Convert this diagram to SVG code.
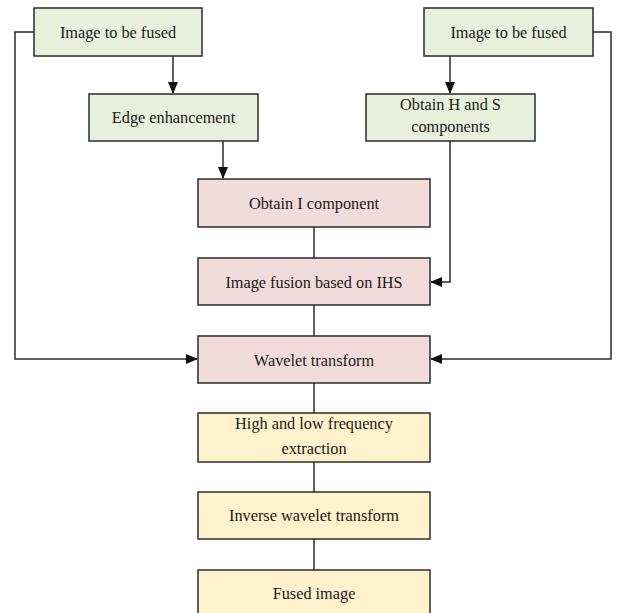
<svg xmlns="http://www.w3.org/2000/svg" width="617" height="613" viewBox="0 0 617 613">
<style>
.box{stroke:#2b2b2b;stroke-width:1.5}
.g{fill:#e9efdd}.p{fill:#f2dcdb}.y{fill:#fff2cc}
text{font-family:"Liberation Serif","Times New Roman",serif;font-size:16.3px;fill:#1a1a1a;text-anchor:middle}
.c{fill:none;stroke:#2b2b2b;stroke-width:1.5}
</style>
<defs>
<marker id="ah" markerWidth="12" markerHeight="10" refX="11" refY="5" orient="auto" markerUnits="userSpaceOnUse">
<path d="M0,0 L12,5 L0,10 Z" fill="#111"/>
</marker>
</defs>
<rect width="617" height="613" fill="#fff"/>
<g id="connectors">
<path class="c" d="M173,56 V93" marker-end="url(#ah)"/>
<path class="c" d="M450,56 V93" marker-end="url(#ah)"/>
<path class="c" d="M223,141 V178" marker-end="url(#ah)"/>
<path class="c" d="M450,141 V282 H431" marker-end="url(#ah)"/>
<path class="c" d="M34,32 H15 V359 H197" marker-end="url(#ah)"/>
<path class="c" d="M593,32 H611 V359 H431" marker-end="url(#ah)"/>
<path class="c" d="M314,227 V258"/>
<path class="c" d="M314,305 V336"/>
<path class="c" d="M314,383 V413"/>
<path class="c" d="M314,462 V492"/>
<path class="c" d="M314,539 V570"/>
</g>
<g id="n1"><rect class="box g" x="34" y="8" width="168" height="48"/><text x="118" y="38">Image to be fused</text></g>
<g id="n2"><rect class="box g" x="424" y="8" width="169" height="48"/><text x="508.5" y="38">Image to be fused</text></g>
<g id="n3"><rect class="box g" x="89" y="94" width="169" height="47"/><text x="173.5" y="123">Edge enhancement</text></g>
<g id="n4"><rect class="box g" x="366" y="94" width="169" height="47"/><text x="450.5" y="110">Obtain H and S</text><text x="450.5" y="132">components</text></g>
<g id="n5"><rect class="box p" x="198" y="179" width="232" height="48"/><text x="314" y="209">Obtain I component</text></g>
<g id="n6"><rect class="box p" x="198" y="258" width="232" height="47"/><text x="314" y="288">Image fusion based on IHS</text></g>
<g id="n7"><rect class="box p" x="198" y="336" width="232" height="47"/><text x="314" y="365.5">Wavelet transform</text></g>
<g id="n8"><rect class="box y" x="198" y="413" width="232" height="49"/><text x="314" y="429">High and low frequency</text><text x="314" y="454">extraction</text></g>
<g id="n9"><rect class="box y" x="198" y="492" width="232" height="47"/><text x="314" y="521">Inverse wavelet transform</text></g>
<g id="n10"><rect class="box y" x="198" y="570" width="232" height="50"/><text x="314" y="599">Fused image</text></g>
</svg>
